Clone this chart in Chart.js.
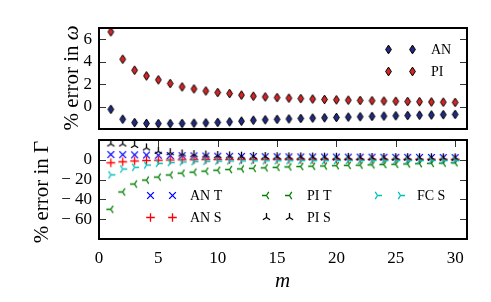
<!DOCTYPE html>
<html><head><meta charset="utf-8">
<script src="https://cdn.jsdelivr.net/npm/chart.js@4.4.1/dist/chart.umd.min.js"></script>
<style>
html,body{margin:0;padding:0;background:#fff}
#wrap{position:relative;width:491px;height:302px;overflow:hidden;background:#fff}
#wrap canvas{position:absolute;left:0}
</style>
</head><body>
<div id="wrap">
<canvas id="c1" width="491" height="135" style="top:0"></canvas>
<canvas id="c2" width="491" height="167" style="top:135px"></canvas>
</div>
<script>
// ---------- data ----------
const m = [1,2,3,4,5,6,7,8,9,10,11,12,13,14,15,16,17,18,19,20,21,22,23,24,25,26,27,28,29,30];
const xTicks = [0,5,10,15,20,25,30];
const yTicksTop = [0,2,4,6];
const yTicksBottom = [0,-20,-40,-60];
const topSeriesNames = ['AN','PI'];
const bottomSeriesNames = ['AN T','AN S','PI T','PI S','FC S'];

const omegaAN = [-0.25,-1.13,-1.43,-1.5,-1.52,-1.52,-1.5,-1.48,-1.45,-1.41,-1.36,-1.3,-1.22,-1.18,-1.14,-1.1,-1.06,-1.03,-1.0,-0.97,-0.94,-0.91,-0.88,-0.85,-0.82,-0.8,-0.77,-0.75,-0.72,-0.7];
const omegaPI = [6.66,4.22,3.24,2.73,2.38,2.05,1.75,1.57,1.39,1.25,1.16,1.02,0.92,0.86,0.8,0.75,0.71,0.67,0.63,0.6,0.57,0.54,0.52,0.49,0.47,0.45,0.43,0.41,0.39,0.37];

const gammaANT = [5.3,5.2,5.0,4.8,4.6,4.4,4.2,4.0,3.8,3.6,3.5,3.4,3.3,3.2,3.1,3.0,2.9,2.85,2.8,2.75,2.7,2.65,2.6,2.55,2.5,2.45,2.4,2.35,2.3,2.25];
const gammaANS = [-3.0,-2.0,-1.2,-0.7,-0.4,-0.2,0.0,0.1,0.2,0.3,0.3,0.4,0.4,0.4,0.5,0.5,0.5,0.5,0.5,0.5,0.5,0.5,0.5,0.5,0.5,0.5,0.5,0.5,0.5,0.5];
const gammaPIT = [-50,-32.5,-24.5,-20.5,-17.5,-15.3,-13.5,-12.5,-11.5,-10.5,-9.8,-9.2,-8.6,-8.1,-7.6,-7.2,-6.8,-6.5,-6.2,-5.9,-5.6,-5.4,-5.1,-4.8,-4.5,-4.2,-3.9,-3.6,-3.3,-3.0];
const gammaPIS = [16,16,14.5,12,8.5,7.2,5.9,5.2,4.8,4.3,4.0,3.7,3.5,3.3,3.1,3.0,2.9,2.8,2.7,2.6,2.5,2.4,2.35,2.3,2.25,2.2,2.15,2.1,2.05,2.0];
const gammaFCS = [-15.2,-9.3,-7.6,-5.3,-3.6,-2.8,-2.2,-1.8,-1.5,-1.3,-1.2,-1.1,-1.0,-1.0,-0.9,-0.9,-0.8,-0.8,-0.8,-0.7,-0.7,-0.7,-0.6,-0.6,-0.6,-0.6,-0.5,-0.5,-0.5,-0.5];

// ---------- markers ----------
const SERIF = '"Liberation Serif", serif';
Chart.defaults.font.family = SERIF;
Chart.defaults.color = '#000';
function mk(w,h,fn){const c=document.createElement('canvas');c.width=w;c.height=h;fn(c.getContext('2d'),w/2,h/2);return c;}
function diamond(fill){return mk(9,11,(g,cx,cy)=>{g.beginPath();g.moveTo(cx,cy-4.4);g.lineTo(cx+2.9,cy);g.lineTo(cx,cy+4.4);g.lineTo(cx-2.9,cy);g.closePath();g.fillStyle=fill;g.fill();g.lineWidth=1;g.strokeStyle='#000';g.stroke();});}
function arms(color,list,r,lw){return mk(13,13,(g,cx,cy)=>{g.strokeStyle=color;g.lineWidth=lw;g.beginPath();list.forEach(a=>{g.moveTo(cx-(a[2]||0)*r,cy-(a[3]||0)*r);g.lineTo(cx+a[0]*r,cy+a[1]*r);});g.stroke();});}
const mkBlueD = diamond('#1f2a80');
const mkRedD = diamond('#d42424');
const mkX = arms('#0000ff',[[0.7,0.7,0.7,0.7],[0.7,-0.7,0.7,-0.7]],4.8,1.3);
const mkPlus = arms('#ff0000',[[1,0,1,0],[0,1,0,1]],4.3,1.3);
const mkTriLeft = arms('#008000',[[-1,0],[0.5,-0.8],[0.5,0.8]],4.5,1.3);
const mkTriUp = arms('#000000',[[0,-1],[0.8,0.5],[-0.8,0.5]],4.5,1.3);
const mkTriRight = arms('#00bfbf',[[1,0],[-0.5,-0.8],[-0.5,0.8]],4.5,1.3);

function pts(ys){return m.map((x,i)=>({x:x,y:ys[i]}));}
function ds(label,ys,marker,order){return {label:label,data:pts(ys),pointStyle:marker,pointRadius:4,showLine:false,clip:false,order:order};}

// ---------- panel plugin (frame, inward ticks, titles, legend) ----------
const panelPlugin = {
  id:'panel',
  afterDraw(chart,args,o){
    const ctx=chart.ctx, a=chart.chartArea, ys=chart.scales.y, xs=chart.scales.x;
    ctx.save();
    ctx.strokeStyle='#333';ctx.lineWidth=1;ctx.beginPath();
    ys.ticks.forEach(t=>{const p=Math.round(ys.getPixelForValue(t.value))+0.5;ctx.moveTo(a.left,p);ctx.lineTo(a.left+7,p);ctx.moveTo(a.right,p);ctx.lineTo(a.right-7,p);});
    if(o.xTop){xs.ticks.forEach(t=>{const p=Math.round(xs.getPixelForValue(t.value))+0.5;ctx.moveTo(p,a.top);ctx.lineTo(p,a.top+7);});}
    ctx.stroke();
    ctx.strokeStyle='#000';ctx.lineWidth=2;ctx.strokeRect(a.left,a.top,a.right-a.left,a.bottom-a.top);
    // y title
    ctx.fillStyle='#000';
    const parts=o.yTitle, f=(it)=>(it?'italic ':'')+'21px '+SERIF;
    let tw=0;parts.forEach(p=>{ctx.font=f(p[1]);tw+=ctx.measureText(p[0]).width;});
    ctx.translate(o.yTitleX,o.yTitleY);ctx.rotate(-Math.PI/2);ctx.textBaseline='alphabetic';ctx.textAlign='left';
    let x0=-tw/2;parts.forEach(p=>{ctx.font=f(p[1]);ctx.fillText(p[0],x0,0);x0+=ctx.measureText(p[0]).width;});
    ctx.setTransform(1,0,0,1,0,0);
    if(o.xTitle){ctx.font='italic 21px '+SERIF;ctx.textAlign='center';ctx.textBaseline='alphabetic';ctx.fillText(o.xTitle[0],o.xTitle[1],o.xTitle[2]);}
    // legend
    ctx.font='14px '+SERIF;ctx.textAlign='left';ctx.textBaseline='middle';
    o.legend.forEach(e=>{
      const mkr=chart.data.datasets[e.i].pointStyle, text=chart.data.datasets[e.i].label;
      [e.x1,e.x2].forEach(x=>ctx.drawImage(mkr,Math.round(x-mkr.width/2),Math.round(e.y-mkr.height/2)));
      ctx.fillText(text,e.tx,e.y+1);
    });
    ctx.restore();
  }
};

const tickFont={family:SERIF,size:17};
const fmt=v=>v<0?'\u2212 '+Math.abs(v):String(v);
const fitY=s=>{s.width=99;s.paddingTop=0;s.paddingBottom=0;};

new Chart(document.getElementById('c1'),{
  type:'scatter',
  data:{datasets:[ds(topSeriesNames[0],omegaAN,mkBlueD,2),ds(topSeriesNames[1],omegaPI,mkRedD,1)]},
  options:{responsive:false,animation:false,events:[],
    layout:{padding:{left:0,right:24,top:28,bottom:6}},
    plugins:{legend:{display:false},tooltip:{enabled:false},
      panel:{xTop:false,yTitle:[['% error in ',false],['\u03c9',true]],yTitleX:78,yTitleY:78,
        legend:[{i:0,x1:388,x2:412,tx:431,y:49},{i:1,x1:388,x2:412,tx:431,y:71}]}},
    scales:{
      x:{type:'linear',min:0,max:31,display:false},
      y:{min:-2,max:7,afterFit:fitY,afterBuildTicks:s=>{s.ticks=yTicksTop.map(v=>({value:v}));},
        grid:{display:false,drawTicks:false},border:{display:false},
        ticks:{font:tickFont,color:'#000',padding:7,callback:fmt}}
    }},
  plugins:[panelPlugin]
});

new Chart(document.getElementById('c2'),{
  type:'scatter',
  data:{datasets:[
    ds(bottomSeriesNames[0],gammaANT,mkX,5),
    ds(bottomSeriesNames[1],gammaANS,mkPlus,4),
    ds(bottomSeriesNames[2],gammaPIT,mkTriLeft,3),
    ds(bottomSeriesNames[3],gammaPIS,mkTriUp,2),
    ds(bottomSeriesNames[4],gammaFCS,mkTriRight,1)]},
  options:{responsive:false,animation:false,events:[],
    layout:{padding:{left:0,right:24,top:5,bottom:0}},
    plugins:{legend:{display:false},tooltip:{enabled:false},
      panel:{xTop:true,yTitle:[['% error in \u0393',false]],yTitleX:48,yTitleY:57,xTitle:['m',282.5,152],
        legend:[
          {i:0,x1:150,x2:172,tx:190,y:60.7},{i:1,x1:150,x2:172,tx:190,y:82.7},
          {i:2,x1:266,x2:289,tx:307,y:60.7},{i:3,x1:266,x2:289,tx:307,y:82.7},
          {i:4,x1:377,x2:400,tx:417,y:60.7}]}},
    scales:{
      x:{type:'linear',min:0,max:31,afterFit:s=>{s.height=63;s.paddingLeft=0;s.paddingRight=0;},afterBuildTicks:s=>{s.ticks=xTicks.map(v=>({value:v}));},
        grid:{display:false,drawTicks:false},border:{display:false},
        ticks:{font:tickFont,color:'#000',padding:9,autoSkip:false,maxRotation:0,callback:fmt}},
      y:{min:-80,max:20,afterFit:fitY,afterBuildTicks:s=>{s.ticks=yTicksBottom.map(v=>({value:v}));},
        grid:{display:false,drawTicks:false},border:{display:false},
        ticks:{font:tickFont,color:'#000',padding:7,callback:fmt}}
    }},
  plugins:[panelPlugin]
});
</script>
</body></html>
